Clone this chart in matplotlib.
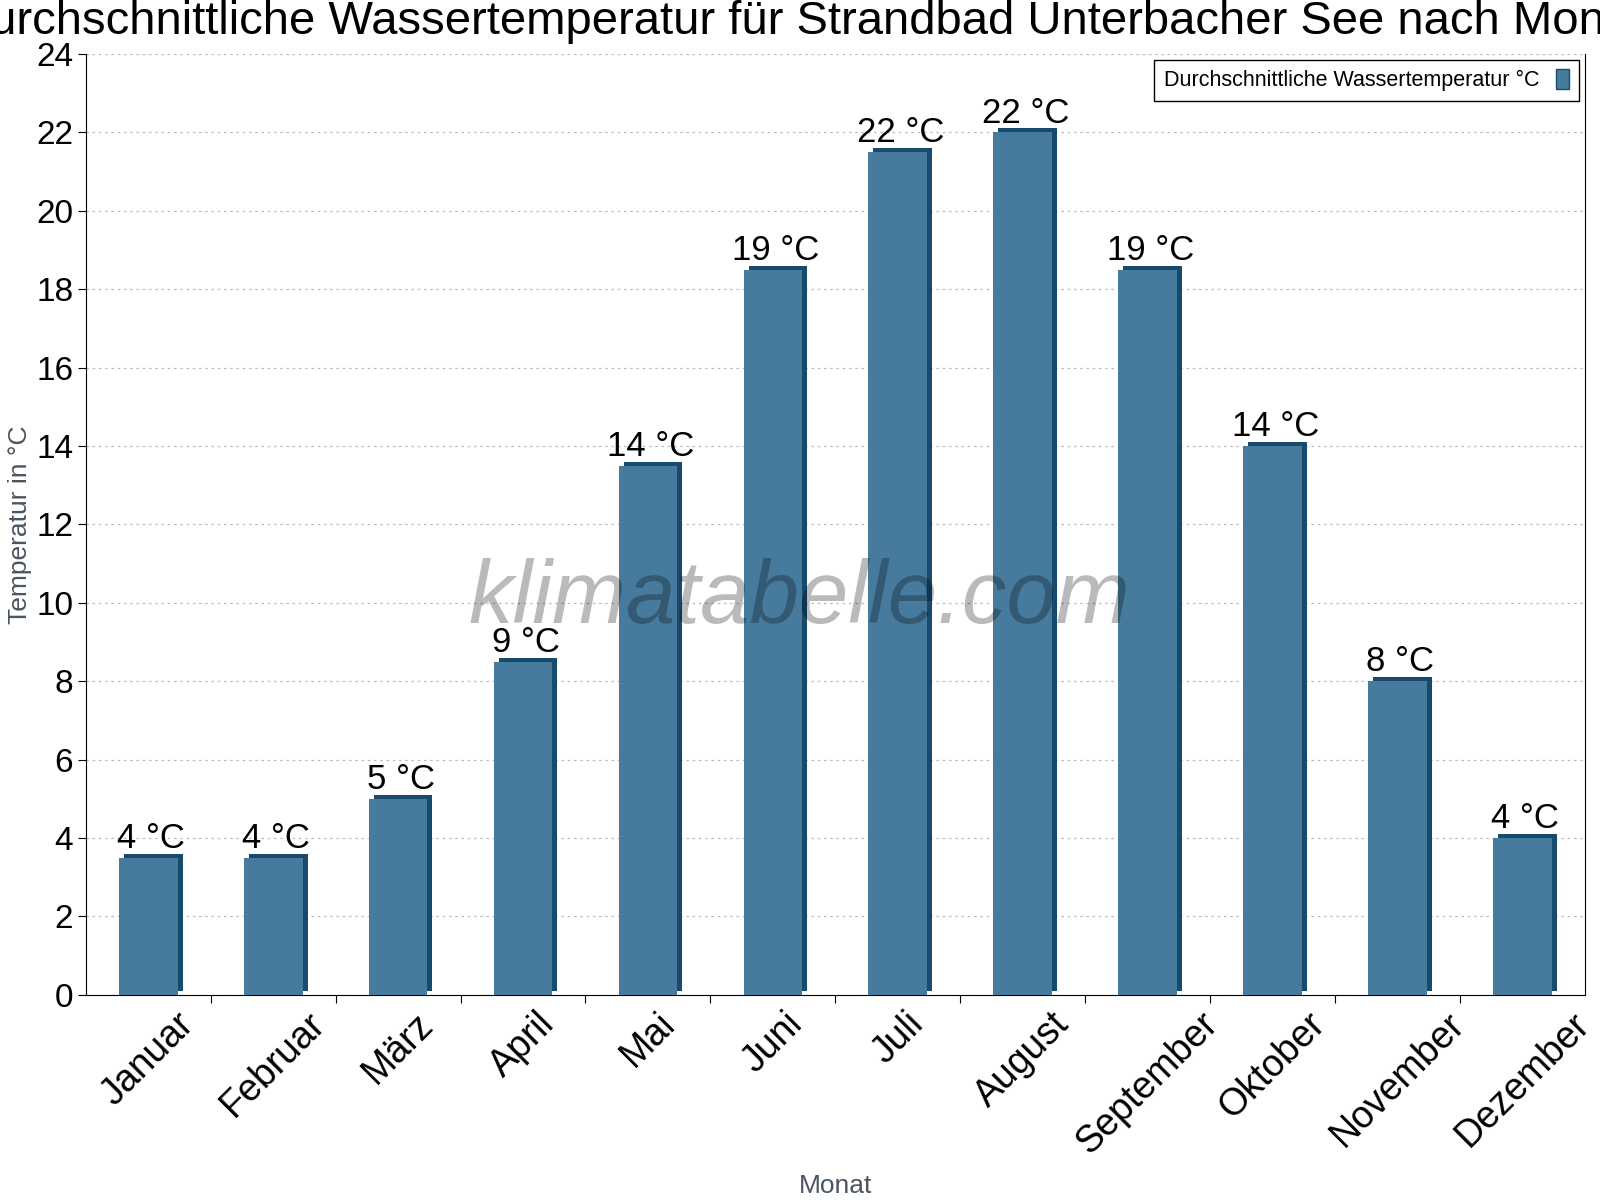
import matplotlib.pyplot as plt
from matplotlib import transforms
from matplotlib.patches import Patch

plt.rcParams["font.family"] = ["Liberation Sans", "DejaVu Sans"]

months = ["Januar", "Februar", "März", "April", "Mai", "Juni", "Juli",
          "August", "September", "Oktober", "November", "Dezember"]
water_temp = [3.5, 3.5, 5, 8.5, 13.5, 18.5, 21.5, 22, 18.5, 14, 8, 4]
temp_labels = ["4 °C", "4 °C", "5 °C", "9 °C", "14 °C", "19 °C", "22 °C",
               "22 °C", "19 °C", "14 °C", "8 °C", "4 °C"]

face = "#467b9e"
side = "#174a6c"
gray_text = "#4a5560"

fig = plt.figure(figsize=(16, 12), dpi=100)
ax = fig.add_axes([0.0536, 0.171, 0.937, 0.784])

x = list(range(len(months)))
width = 0.47

# dark offset copy behind the bars gives the 3d edge
shift = transforms.ScaledTranslation(5 / 100, 4 / 100, fig.dpi_scale_trans)
ax.bar(x, water_temp, width=width, color=side, zorder=2,
       transform=ax.transData + shift)
ax.bar(x, water_temp, width=width, color=face, zorder=3)

for xi, v, lab in zip(x, water_temp, temp_labels):
    ax.annotate(lab, (xi, v), xytext=(2, 2), textcoords="offset points",
                ha="center", va="bottom", fontsize=25, zorder=5)

ax.set_xlim(-0.5, 11.5)
ax.set_ylim(0, 24)
ax.set_yticks(range(0, 25, 2))
ax.tick_params(axis="y", labelsize=24, length=6, direction="out", pad=3)
ax.set_xticks([i + 0.5 for i in range(11)])
ax.set_xticklabels([])
ax.set_xticks(x, minor=True)
ax.set_xticklabels(months, minor=True, rotation=45, fontsize=27)
ax.tick_params(axis="x", which="minor", length=0, pad=8)
ax.tick_params(axis="x", which="major", length=6, direction="out")

ax.grid(axis="y", linestyle=(0, (2, 3)), color="#bbbbbb", linewidth=0.9, zorder=0)
ax.set_axisbelow(True)
ax.spines["top"].set_visible(False)

ax.set_ylabel("Temperatur in °C", fontsize=19, color=gray_text)
ax.yaxis.set_label_coords(-0.036, 0.5)
ax.set_xlabel("Monat", fontsize=19, color=gray_text)
ax.xaxis.set_label_coords(0.5, -0.19)

fig.suptitle("Durchschnittliche Wassertemperatur für Strandbad Unterbacher See nach Monat",
             fontsize=34, x=0.5, y=1.0, va="top")

ax.text(0.476, 0.42, "klimatabelle.com", transform=ax.transAxes, fontsize=64,
        style="italic", color="black", alpha=0.27, ha="center", va="center", zorder=6)

handle = Patch(facecolor=face, edgecolor=side, linewidth=1)
leg = ax.legend([handle], ["Durchschnittliche Wassertemperatur °C"], loc="upper right",
                bbox_to_anchor=(0.996, 0.994), borderaxespad=0, fontsize=15.5,
                markerfirst=False, fancybox=False, edgecolor="black", framealpha=1,
                handlelength=0.6, handleheight=1.0, borderpad=0.45)
leg.get_frame().set_linewidth(1)

fig.savefig("out.png", dpi=100)
